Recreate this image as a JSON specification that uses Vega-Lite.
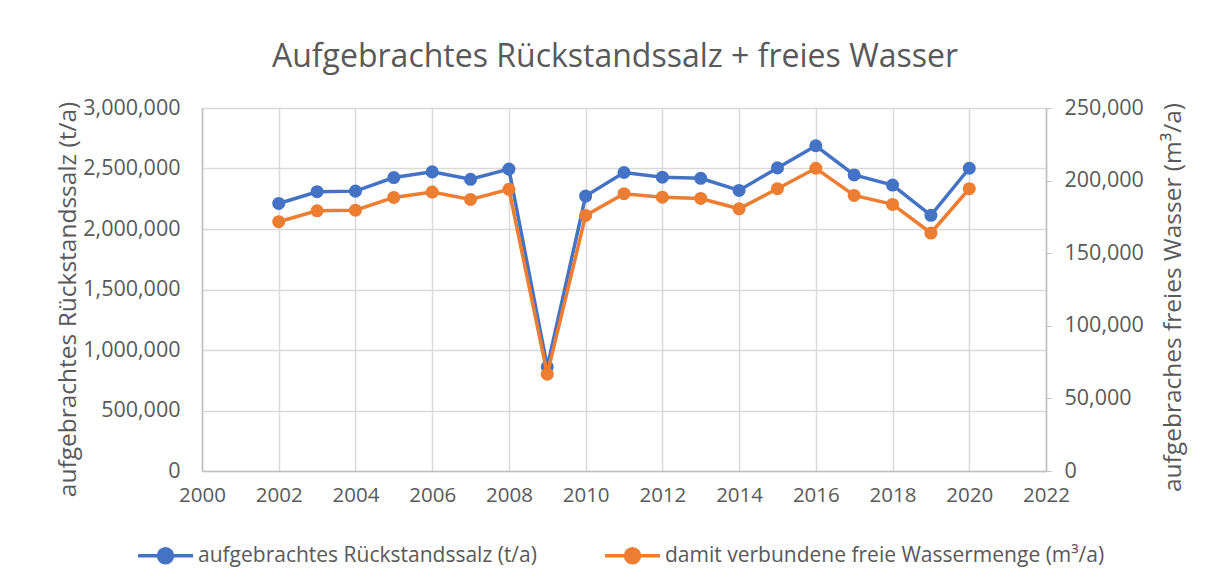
{
  "$schema": "https://vega.github.io/schema/vega-lite/v6.json",
  "autosize": "none",
  "width": 844,
  "height": 363,
  "padding": {"left": 202, "top": 108, "right": 168, "bottom": 116},
  "background": "white",
  "config": {
    "font": "Open Sans",
    "view": {"stroke": null},
    "axis": {"labelColor": "#595959", "titleColor": "#595959", "labelFontSize": 21.5, "titleFontSize": 24.5, "titleFontWeight": "normal", "gridColor": "#d9d9d9", "gridWidth": 1.5, "domainColor": "#bfbfbf", "domainWidth": 1.5, "tickColor": "#bfbfbf"},
    "legend": {"labelColor": "#595959", "labelFontSize": 21, "labelLimit": 0}
  },
  "title": {"text": "Aufgebrachtes Rückstandssalz + freies Wasser", "fontSize": 32, "fontWeight": "normal", "color": "#595959", "anchor": "middle", "offset": 23, "dx": -9},
  "data": {"values": [
    {"year": 2002, "salz": 2211000, "wasser": 171700},
    {"year": 2003, "salz": 2308000, "wasser": 179200},
    {"year": 2004, "salz": 2313000, "wasser": 179600},
    {"year": 2005, "salz": 2425000, "wasser": 188400},
    {"year": 2006, "salz": 2472000, "wasser": 192100},
    {"year": 2007, "salz": 2411000, "wasser": 187000},
    {"year": 2008, "salz": 2495000, "wasser": 194000},
    {"year": 2009, "salz": 861000, "wasser": 66700},
    {"year": 2010, "salz": 2272000, "wasser": 176000},
    {"year": 2011, "salz": 2467000, "wasser": 191000},
    {"year": 2012, "salz": 2428000, "wasser": 188600},
    {"year": 2013, "salz": 2419000, "wasser": 187700},
    {"year": 2014, "salz": 2319000, "wasser": 180600},
    {"year": 2015, "salz": 2505000, "wasser": 194400},
    {"year": 2016, "salz": 2688000, "wasser": 208500},
    {"year": 2017, "salz": 2447000, "wasser": 189800},
    {"year": 2018, "salz": 2363000, "wasser": 183600},
    {"year": 2019, "salz": 2113000, "wasser": 163900},
    {"year": 2020, "salz": 2502000, "wasser": 194400}
  ]},
  "encoding": {
    "x": {"field": "year", "type": "quantitative", "scale": {"domain": [2000, 2022], "nice": false, "zero": false},
      "axis": {"title": null, "values": [2000, 2002, 2004, 2006, 2008, 2010, 2012, 2014, 2016, 2018, 2020, 2022], "format": "d", "ticks": false, "labelPadding": 14, "labelFontSize": 20.5, "grid": true, "labelFlush": false}}
  },
  "layer": [
    {
      "mark": {"type": "line", "strokeWidth": 3.5, "point": {"filled": true, "size": 170}},
      "encoding": {
        "y": {"field": "salz", "type": "quantitative", "scale": {"domain": [0, 3000000], "nice": false},
          "axis": {"title": "aufgebrachtes Rückstandssalz (t/a)", "values": [0, 500000, 1000000, 1500000, 2000000, 2500000, 3000000], "format": ",d", "ticks": false, "labelPadding": 22, "grid": true, "titleX": -134, "titleY": 191, "titleBaseline": "middle", "titleAngle": 270}},
        "color": {"datum": "aufgebrachtes Rückstandssalz (t/a)", "type": "nominal",
          "scale": {"domain": ["aufgebrachtes Rückstandssalz (t/a)", "damit verbundene freie Wassermenge (m³/a)"], "range": ["#4472C4", "#ED7D31"]},
          "legend": {"title": null, "orient": "none", "legendX": -66, "legendY": 418, "direction": "horizontal", "symbolType": "M-1,0H1M-0.2545,0A0.2545,0.2545,0,1,0,0.2545,0A0.2545,0.2545,0,1,0,-0.2545,0", "symbolSize": 3025, "symbolStrokeWidth": 3.5, "labelOffset": 3, "columnPadding": 61,
            "encode": {"symbols": {"update": {"fill": {"scale": "color", "field": "value"}}}}}}
      }
    },
    {
      "mark": {"type": "line", "strokeWidth": 3.5, "point": {"filled": true, "size": 170}},
      "encoding": {
        "y": {"field": "wasser", "type": "quantitative", "scale": {"domain": [0, 250000], "nice": false},
          "axis": {"orient": "right", "title": "aufgebraches freies Wasser (m³/a)", "values": [0, 50000, 100000, 150000, 200000, 250000], "format": ",d", "ticks": true, "tickSize": 5, "labelPadding": 13, "grid": false, "titleX": 127, "titleY": 189, "titleBaseline": "middle", "titleAngle": 270}},
        "color": {"datum": "damit verbundene freie Wassermenge (m³/a)", "type": "nominal"}
      }
    }
  ],
  "resolve": {"scale": {"y": "independent"}}
}
